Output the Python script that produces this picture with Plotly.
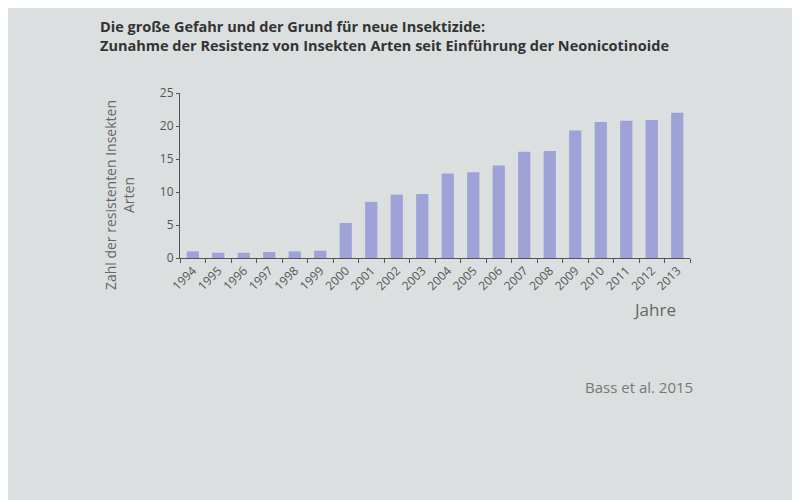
import plotly.graph_objects as go

years = [str(y) for y in range(1994, 2014)]
resistant_species = [1.0, 0.8, 0.8, 0.9, 1.0, 1.1, 5.3, 8.5, 9.6, 9.7,
                     12.8, 13.0, 14.0, 16.1, 16.2, 19.3, 20.6, 20.8, 20.9, 22.0]
y_ticks = [0, 5, 10, 15, 20, 25]

title_text = ("<b>Die große Gefahr und der Grund für neue Insektizide:</b><br>"
              "<b>Zunahme der Resistenz von Insekten Arten seit Einführung der Neonicotinoide</b>")

fig = go.Figure(go.Bar(x=years, y=resistant_species, marker_color="#9ea2d6",
                       marker_line_width=0))

fig.update_layout(
    width=800, height=500,
    paper_bgcolor="#dcdfe0", plot_bgcolor="#dcdfe0",
    margin=dict(l=172, r=118, t=85, b=250),
    bargap=0.52,
    showlegend=False,
    font=dict(family="Open Sans, sans-serif", color="#555555"),
)
fig.update_yaxes(range=[0, 25], tickvals=y_ticks, showgrid=False, zeroline=False,
                 showline=True, linecolor="#555555", linewidth=1,
                 ticks="outside", ticklen=3, tickcolor="#555555",
                 tickfont=dict(size=12, color="#555555"))
fig.update_xaxes(showgrid=False, showline=True, linecolor="#555555", linewidth=1,
                 ticks="outside", tickson="boundaries", ticklen=4, tickcolor="#555555",
                 tickangle=-45, tickfont=dict(size=12, color="#555555"))

fig.add_annotation(text=title_text, xref="paper", yref="paper", x=-0.16, y=1.47,
                   xanchor="left", yanchor="top", showarrow=False, align="left",
                   font=dict(size=14.5, color="#333333"))
fig.add_annotation(text="Zahl der resistenten Insekten<br>Arten", xref="paper", yref="paper",
                   x=-0.12, y=0.38, xanchor="center", yanchor="middle", textangle=-90,
                   showarrow=False, font=dict(size=14, color="#666666"))
fig.add_annotation(text="Jahre", xref="paper", yref="paper", x=0.93, y=-0.315,
                   xanchor="center", yanchor="middle", showarrow=False,
                   font=dict(size=17, color="#666666"))
fig.add_annotation(text="Bass et al. 2015", xref="paper", yref="paper", x=0.90, y=-0.78,
                   xanchor="center", yanchor="middle", showarrow=False,
                   font=dict(size=15, color="#777777"))

fig.write_html("out.html")
